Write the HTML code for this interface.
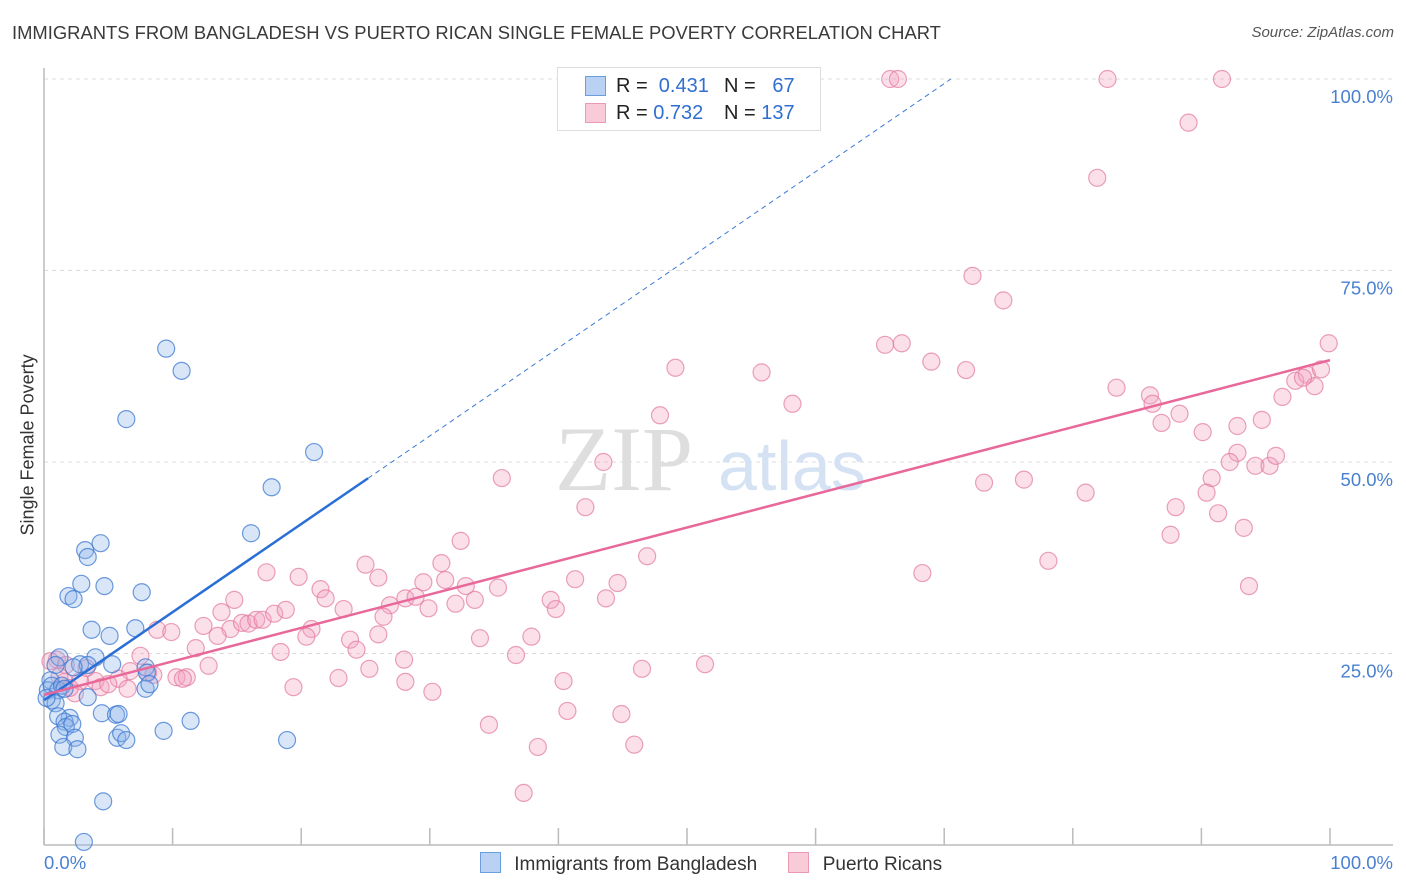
<!DOCTYPE html>
<html><head><meta charset="utf-8"><style>
body{margin:0;background:#fff;font-family:"Liberation Sans",sans-serif;}
#wrap{position:relative;width:1406px;height:892px;overflow:hidden;}
.t{position:absolute;white-space:nowrap;}
</style></head><body>
<div id="wrap">
<div class="t" style="left:12px;top:22px;font-size:18.4px;color:#3a3a3a;">IMMIGRANTS FROM BANGLADESH VS PUERTO RICAN SINGLE FEMALE POVERTY CORRELATION CHART</div>
<div class="t" style="right:12px;top:24px;font-size:15px;color:#555;font-style:italic;">Source: ZipAtlas.com</div>
<svg id="svg" width="1406" height="892" style="position:absolute;left:0;top:0"></svg>
</div>
<script>
const blueX=[9.5,10.7,6.4,21.0,17.7,16.1,3.2,4.4,3.4,2.9,4.7,1.9,2.3,7.6,3.7,5.1,7.1,1.2,4.0,2.8,3.4,2.3,7.9,8.0,0.9,0.5,0.3,0.6,1.1,1.4,1.6,0.6,0.9,0.2,7.9,8.2,3.4,4.5,5.6,5.8,2.0,1.1,1.6,1.7,2.2,11.4,9.3,1.2,2.4,1.5,2.6,5.7,6.0,6.4,18.9,4.6,3.1,5.3];
const blueY=[64.8,61.9,55.6,51.3,46.7,40.7,38.5,39.4,37.6,34.1,33.8,32.5,32.1,33.0,28.1,27.3,28.3,24.5,24.5,23.6,23.5,23.2,23.2,22.5,23.5,21.5,20.2,20.8,20.2,20.8,20.4,18.9,18.5,19.2,20.4,21.0,19.3,17.2,17.0,17.1,16.6,16.8,16.1,15.4,15.8,16.2,14.9,14.4,14.0,12.8,12.5,14.0,14.6,13.7,13.7,5.7,0.4,23.6];
const pinkX=[65.8,66.4,82.7,91.6,89.0,81.9,72.2,74.6,99.9,65.4,66.7,69.0,71.7,49.1,55.8,58.2,47.9,83.4,86.0,86.2,88.3,86.9,90.1,92.8,94.7,96.3,97.3,98.2,98.8,99.3,97.9,92.8,92.2,94.2,95.3,95.8,43.5,35.6,73.1,76.2,81.0,90.8,90.4,88.0,91.3,87.6,93.3,42.1,78.1,68.3,93.7,46.9,32.4,30.9,25.0,17.3,19.8,14.8,13.8,21.5,21.9,23.3,26.0,29.5,31.2,32.8,35.3,41.3,44.6,26.9,28.1,28.9,29.9,32.0,33.5,39.4,39.8,43.7,8.8,9.9,12.4,14.5,15.4,15.9,16.5,17.0,17.9,18.8,20.8,20.4,26.4,23.8,24.3,26.0,13.5,11.8,18.4,33.9,37.9,36.7,7.5,12.8,25.3,28.0,46.5,51.4,1.0,1.7,3.3,6.7,8.1,8.5,10.3,11.1,5.8,4.0,4.4,5.0,1.6,2.8,2.4,6.5,10.8,22.9,19.4,28.1,40.4,30.2,40.7,44.9,34.6,38.4,45.9,37.3,0.5,1.2,2.0];
const pinkY=[100,100,100,100,94.3,87.1,74.3,71.1,65.5,65.3,65.5,63.1,62.0,62.3,61.7,57.6,56.1,59.7,58.7,57.6,56.3,55.1,53.9,54.7,55.5,58.5,60.6,61.4,59.9,62.1,61.0,51.2,50.0,49.5,49.5,50.8,50.0,47.9,47.3,47.7,46.0,47.9,46.0,44.1,43.3,40.5,41.4,44.1,37.1,35.5,33.8,37.7,39.7,36.8,36.6,35.6,35.0,32.0,30.4,33.4,32.2,30.8,34.9,34.3,34.6,33.8,33.6,34.7,34.2,31.3,32.2,32.4,30.9,31.5,32.0,32.0,30.8,32.2,28.1,27.8,28.6,28.2,29.0,28.9,29.4,29.4,30.2,30.7,28.2,27.2,29.8,26.8,25.5,27.5,27.3,25.7,25.2,27.0,27.2,24.8,24.7,23.4,23.0,24.2,23.0,23.6,24.2,23.5,23.1,22.7,22.5,22.2,21.9,21.9,21.7,21.4,20.6,21.0,21.3,21.4,19.8,20.4,21.7,21.8,20.6,21.3,21.4,20.0,17.5,17.1,15.7,12.8,13.1,6.8,24.0,22.0,20.5];
const blueTrend=[18.9,1.15]; // intercept, slope
const blueSolidEnd=25.2;
const pinkTrend=[19.6,0.437];
const yTicks=[25,50,75,100];
const yTickLabels=["25.0%","50.0%","75.0%","100.0%"];
const xTicks=[0,10,20,30,40,50,60,70,80,90,100];

const X0=44,X1=1330,Y0=845,Y100=79;
const sx=v=>X0+(X1-X0)*v/100, sy=v=>Y0-(Y0-Y100)*v/100;
const svg=document.getElementById('svg');const NS='http://www.w3.org/2000/svg';
function mk(tag,attrs,parent){const e=document.createElementNS(NS,tag);for(const k in attrs)e.setAttribute(k,attrs[k]);(parent||svg).appendChild(e);return e;}
yTicks.forEach((v,i)=>{
 const g=mk('line',{x1:X0,x2:1393,y1:sy(v),y2:sy(v),stroke:'#dcdcdc','stroke-dasharray':'4,4'});
 
 
 const t=mk('text',{x:1393,y:sy(v)+24,'text-anchor':'end','font-size':'18.5',fill:'#4a80d0','font-family':'Liberation Sans, sans-serif'});
 t.textContent=yTickLabels[i];
 
 
});
let a=mk('line',{x1:X0,x2:X0,y1:68,y2:Y0,stroke:'#bbb','stroke-width':1.5});


a=mk('line',{x1:X0,x2:1393,y1:Y0,y2:Y0,stroke:'#bbb','stroke-width':1.5});


xTicks.forEach(v=>{const t=mk('line',{x1:sx(v),x2:sx(v),y1:828,y2:Y0,stroke:'#bbb','stroke-width':1.5});
 
 });
let w=mk('text',{x:555,y:490,'font-size':'92','font-family':'Liberation Serif, serif',fill:'#dedede'});w.textContent='ZIP';


w=mk('text',{x:718,y:490,'font-size':'70','font-family':'Liberation Sans, sans-serif',fill:'#d4e2f4'});w.textContent='atlas';


function pts(xs,ys,fill,stroke,name){xs.forEach((x,i)=>{const c=mk('circle',{cx:sx(x),cy:sy(ys[i]),r:8.5,fill:fill,stroke:stroke,'stroke-width':1.2});
 
 });}
pts(pinkX,pinkY,'rgba(244,160,190,0.33)','rgba(226,120,158,0.7)','puerto-rican-point');
pts(blueX,blueY,'rgba(140,180,235,0.33)','rgba(60,120,210,0.75)','bangladesh-point');
const dashEnd=(100-blueTrend[0])/blueTrend[1];
let l=mk('line',{x1:sx(blueSolidEnd),y1:sy(blueTrend[0]+blueTrend[1]*blueSolidEnd),x2:sx(dashEnd),y2:sy(100),stroke:'#3a7ad8','stroke-width':1,'stroke-dasharray':'5,4'});


l=mk('line',{x1:sx(0),y1:sy(blueTrend[0]),x2:sx(blueSolidEnd),y2:sy(blueTrend[0]+blueTrend[1]*blueSolidEnd),stroke:'#2a6fd6','stroke-width':2.5});


l=mk('line',{x1:sx(0),y1:sy(pinkTrend[0]),x2:sx(100),y2:sy(pinkTrend[0]+pinkTrend[1]*100),stroke:'#e8689a','stroke-width':2.5});


</script>
<div class="t" style="left:-52px;top:445px;font-size:18px;color:#333;transform:rotate(-90deg);width:160px;text-align:center;">Single Female Poverty</div>
<div class="t" style="left:44px;top:852px;font-size:18.5px;color:#4a80d0;">0.0%</div>
<div class="t" style="right:13px;top:852px;font-size:18.5px;color:#4a80d0;">100.0%</div>
<div style="position:absolute;left:557px;top:67px;width:262px;height:62px;border:1px solid #ddd;background:#fff;font-size:20px;">
 <div style="position:absolute;left:27px;top:8px;width:19px;height:18px;background:#b9d1f2;border:1px solid #6a9ee0;"></div>
 <div class="t" style="left:58px;top:7px;color:#222;">R = <span style="color:#2f6fd0">&nbsp;0.431</span></div>
 <div class="t" style="left:166px;top:7px;color:#222;">N = <span style="color:#2f6fd0">&nbsp;&nbsp;67</span></div>
 <div style="position:absolute;left:27px;top:35px;width:19px;height:18px;background:#f9cbd9;border:1px solid #ea9ab5;"></div>
 <div class="t" style="left:58px;top:34px;color:#222;">R = <span style="color:#2f6fd0">0.732</span></div>
 <div class="t" style="left:166px;top:34px;color:#222;">N = <span style="color:#2f6fd0">137</span></div>
</div>
<div style="position:absolute;left:480px;top:852px;font-size:19px;color:#333;">
 <span style="display:inline-block;width:19px;height:19px;background:#b9d1f2;border:1px solid #6a9ee0;vertical-align:-3px;"></span>
 <span style="margin-left:8px">Immigrants from Bangladesh</span>
 <span style="display:inline-block;width:19px;height:19px;background:#f9cbd9;border:1px solid #ea9ab5;vertical-align:-3px;margin-left:26px;"></span>
 <span style="margin-left:8px">Puerto Ricans</span>
</div>
</body></html>
